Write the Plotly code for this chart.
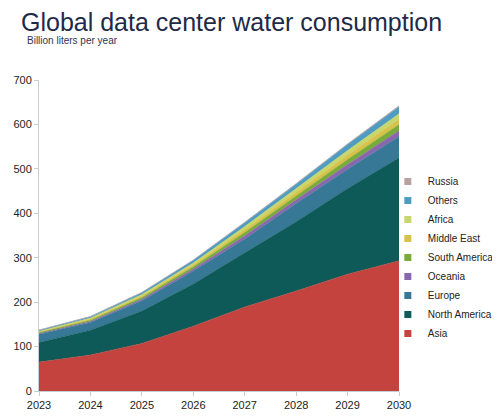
import plotly.graph_objects as go

years = [2023, 2024, 2025, 2026, 2027, 2028, 2029, 2030]

# Billion liters per year, by region (stacked bottom to top)
asia = [65, 81, 107, 146, 189, 225, 263, 293]
north_america = [44, 56, 73, 95, 122, 156, 193, 232]
europe = [19, 17, 23, 29, 31, 41, 43, 48]
oceania = [1.7, 2.6, 3.6, 4.7, 7.2, 8.5, 10.7, 13]
south_america = [1.8, 2.8, 3.8, 5.0, 7.7, 9.1, 11.6, 14]
middle_east = [1.6, 2.4, 3.3, 4.3, 6.6, 7.8, 10, 12]
africa = [1.6, 2.4, 3.3, 4.3, 6.6, 7.8, 10, 12]
others = [2.1, 3.2, 4.4, 5.8, 8.8, 10.4, 13.3, 16]
russia = [0.3, 0.4, 0.6, 0.7, 1.1, 1.3, 1.7, 2]

series = [
    ('Asia', asia, '#c4433e'),
    ('North America', north_america, '#0e5a58'),
    ('Europe', europe, '#367896'),
    ('Oceania', oceania, '#8a66ae'),
    ('South America', south_america, '#78ab3a'),
    ('Middle East', middle_east, '#d8c24a'),
    ('Africa', africa, '#c8d76c'),
    ('Others', others, '#4e9cc2'),
    ('Russia', russia, '#b9a1a2'),
]

fig = go.Figure()
for name, vals, col in series:
    fig.add_trace(go.Scatter(
        x=years, y=vals, name=name,
        mode='lines', stackgroup='one',
        line=dict(width=0.5, color=col),
        fillcolor=col, showlegend=False,
    ))

# small square legend keys, like the original
for name, vals, col in series:
    fig.add_trace(go.Scatter(
        x=[None], y=[None], name=name, mode='markers',
        marker=dict(symbol='square', size=7, color=col),
    ))

# page body has an 8px margin, so the figure is a bit smaller than the window
fig.update_layout(
    width=492, height=411,
    margin=dict(l=31, r=101, t=72, b=28, autoexpand=False),
    paper_bgcolor='white', plot_bgcolor='white',
    font=dict(family='Liberation Sans, Arial, sans-serif', size=11, color='#222222'),
    showlegend=True,
    legend=dict(
        traceorder='reversed',
        x=0.969, y=0.72, xanchor='left', yanchor='top',
        font=dict(size=10, color='#222222'),
        itemwidth=30, tracegroupgap=0,
        bgcolor='rgba(0,0,0,0)',
    ),
    xaxis=dict(
        range=[2023, 2030], dtick=1, showgrid=False, zeroline=False,
        showline=True, linecolor='#c8cdd3', linewidth=1,
        ticks='outside', ticklen=4, tickcolor='#c8cdd3',
        tickfont=dict(size=11, color='#222222'),
    ),
    yaxis=dict(
        range=[0, 700], dtick=100, showgrid=False, zeroline=False,
        showline=True, linecolor='#c8cdd3', linewidth=1,
        ticks='outside', ticklen=4, tickcolor='#c8cdd3',
        tickfont=dict(size=11, color='#222222'),
    ),
    annotations=[
        dict(text='Global data center water consumption', xref='paper', yref='paper',
             x=-0.055, y=1.188, xanchor='left', yanchor='middle', showarrow=False,
             font=dict(size=25, color='#1e2a48', family='Liberation Sans, Arial, sans-serif')),
        dict(text='Billion liters per year', xref='paper', yref='paper',
             x=-0.038, y=1.126, xanchor='left', yanchor='middle', showarrow=False,
             font=dict(size=10, color='#2c3550', family='Liberation Sans, Arial, sans-serif')),
    ],
)

fig.write_html("out.html")
